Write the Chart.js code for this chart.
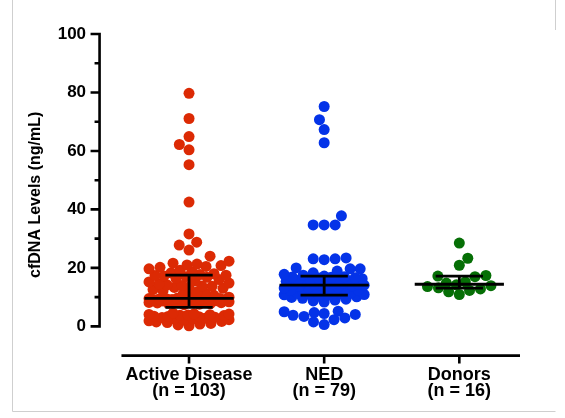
<!DOCTYPE html>
<html>
<head>
<meta charset="utf-8">
<script src="https://cdn.jsdelivr.net/npm/chart.js@4.4.1/dist/chart.umd.min.js"></script>
<style>
  html, body { margin: 0; padding: 0; background: #fff; }
  #chartContainer { position: relative; width: 565px; height: 418px; }
</style>
</head>
<body>
<div id="chartContainer"><canvas id="myChart"></canvas></div>
<script>
// groups and their sizes
const groups = ['Active Disease', 'NED', 'Donors'];
const groupCounts = ['(n = 103)', '(n = 79)', '(n = 16)'];

// cfDNA levels (ng/mL) per patient
const activeDisease = [
    0.2, 0.5, 0.8, 1.0, 1.3, 1.5, 1.7, 1.9, 2.1, 2.3, 2.5, 2.6, 2.8, 3.0, 3.1, 3.3, 3.4, 3.5, 3.7, 3.8, 3.9, 4.0, 4.1, 4.2, 4.3, 4.5,
    7.4, 7.6, 7.8, 7.9, 8.0, 8.1, 8.2, 8.3, 8.4, 8.5, 8.6, 8.7, 8.8, 8.9, 9.0, 9.0, 9.1, 9.2, 9.2, 9.3, 9.3, 9.4, 9.4, 9.5, 9.5, 9.6,
    10.0, 10.3, 10.6, 11.0, 11.4, 11.8, 12.2, 12.6, 13.0, 13.3, 13.5, 13.7, 13.8, 14.0, 14.2, 14.5, 14.8, 15.2, 15.6, 16.0, 16.4, 16.8, 17.0, 17.2, 17.4, 17.5,
    17.7, 18.0, 18.3, 18.7, 19.2, 19.7, 20.2, 20.5, 20.8, 21.0, 21.3, 21.6,
    22.3, 24.0, 26.1, 27.8, 28.8, 31.6, 42.5, 55.3, 60.4, 62.2, 64.9, 71.1, 79.7
];
const ned = [
    0.6, 1.5, 2.3, 2.9, 3.4, 3.8, 4.1, 4.4, 4.7, 5.0, 5.2,
    8.3, 8.7, 9.0, 9.3, 9.6, 9.9, 10.1, 10.3, 10.6,
    10.8, 10.9, 11.0, 11.1, 11.2, 11.3, 11.5, 11.7, 11.9, 12.1, 12.3, 12.5, 12.7, 12.9, 13.1, 13.3, 13.5, 13.7, 13.9, 14.1,
    14.2, 14.3, 14.4, 14.5, 14.6, 14.8, 15.0, 15.2, 15.4, 15.6, 15.8, 16.0, 16.1, 16.3, 16.5, 16.6, 16.8, 16.9, 17.0, 17.2,
    17.5, 17.8, 18.3, 18.9, 19.7, 19.7, 20.0, 22.8, 23.1, 23.1, 23.4, 34.7, 34.7, 34.7, 37.8, 62.8, 67.3, 70.7, 75.2
];
const donors = [10.9, 11.8, 12.3, 12.8, 13.2, 13.6, 13.9, 14.2, 14.8, 15.2, 17.0, 17.2, 17.4, 20.9, 23.3, 28.5];

// median with interquartile range
const medians = [9.6, 14.1, 14.4];
const lowerQuartiles = [6.5, 10.7, 13.1];
const upperQuartiles = [17.5, 17.2, 17.2];

const yTicks = [0, 20, 40, 60, 80, 100];
const yMinorTicks = [10, 30, 50, 70, 90];

const colors = ['#dc2a04', '#0433e8', '#066f06'];
const fontFamily = "'Liberation Sans', Arial, sans-serif";
const dotRadius = 5.5;
const swarmSpacing = 11;
const swarmHalfWidth = 40;

// beeswarm: lowest values first, each as close to the centre line as it can go;
// once a band is full the dot goes where it overlaps the least
function swarm(values, center, xs, ys, diam, cap) {
    const cx = xs.getPixelForValue(center);
    const order = values.map((v, i) => i).sort((a, b) => values[a] - values[b]);
    const placed = [];
    const out = [];
    let flip = 1;
    const minDist = (c, py) => placed.reduce((m, p) => Math.min(m, Math.hypot(p.x - c, p.y - py)), Infinity);
    order.forEach(i => {
        const py = ys.getPixelForValue(values[i]);
        const cands = [0];
        placed.forEach(p => {
            const dy = py - p.y;
            if (Math.abs(dy) < diam) {
                const dx = Math.sqrt(diam * diam - dy * dy);
                cands.push(p.x + dx, p.x - dx);
            }
        });
        cands.sort((a, b) => (Math.abs(a) - Math.abs(b)) || (flip * (b - a)));
        let best = cands.find(c => Math.abs(c) <= cap && minDist(c, py) >= diam - 0.01);
        if (best === undefined) {
            let bestD = -1;
            for (let k = 0; k <= 2 * cap; k++) {
                const c = flip * (k % 2 ? (k + 1) / 2 : -k / 2);
                const d = minDist(c, py);
                if (d > bestD + 0.01) { bestD = d; best = c; }
            }
        }
        flip = -flip;
        placed.push({ x: best, y: py });
        out[i] = { x: xs.getValueForPixel(cx + best), y: values[i] };
    });
    return out;
}

const axesAndBars = {
    id: 'axesAndBars',
    afterDatasetsDraw(chart) {
        const ctx = chart.ctx;
        const xs = chart.scales.x;
        const ys = chart.scales.y;
        const area = chart.chartArea;
        ctx.save();

        // light frame
        ctx.strokeStyle = '#cfcfcf';
        ctx.lineWidth = 1;
        ctx.beginPath();
        ctx.moveTo(12.5, 0);
        ctx.lineTo(12.5, 411.5);
        ctx.lineTo(555.5, 411.5);
        ctx.moveTo(555.5, 0);
        ctx.lineTo(555.5, 30);
        ctx.stroke();

        ctx.strokeStyle = '#000';
        ctx.lineWidth = 2.6;
        ctx.lineCap = 'butt';

        // y axis
        const yAxisX = area.left;
        ctx.beginPath();
        ctx.moveTo(yAxisX, ys.getPixelForValue(0) + 1.3);
        ctx.lineTo(yAxisX, ys.getPixelForValue(100) - 1.3);
        yTicks.forEach(t => {
            const py = ys.getPixelForValue(t);
            ctx.moveTo(yAxisX, py);
            ctx.lineTo(yAxisX - 9, py);
        });
        yMinorTicks.forEach(t => {
            const py = ys.getPixelForValue(t);
            ctx.moveTo(yAxisX, py);
            ctx.lineTo(yAxisX - 5, py);
        });
        ctx.stroke();

        // x axis
        const xAxisY = area.bottom;
        ctx.beginPath();
        ctx.moveTo(xs.getPixelForValue(0.5), xAxisY);
        ctx.lineTo(area.right, xAxisY);
        groups.forEach((g, i) => {
            const px = xs.getPixelForValue(i + 1);
            ctx.moveTo(px, xAxisY);
            ctx.lineTo(px, xAxisY + 8);
        });
        ctx.stroke();

        // median and interquartile range
        ctx.lineWidth = 2.8;
        groups.forEach((g, i) => {
            const c = i + 1;
            const yMed = ys.getPixelForValue(medians[i]);
            const yLo = ys.getPixelForValue(lowerQuartiles[i]);
            const yHi = ys.getPixelForValue(upperQuartiles[i]);
            ctx.beginPath();
            ctx.moveTo(xs.getPixelForValue(c - 0.33), yMed);
            ctx.lineTo(xs.getPixelForValue(c + 0.33), yMed);
            ctx.moveTo(xs.getPixelForValue(c - 0.175), yHi);
            ctx.lineTo(xs.getPixelForValue(c + 0.175), yHi);
            ctx.moveTo(xs.getPixelForValue(c - 0.175), yLo);
            ctx.lineTo(xs.getPixelForValue(c + 0.175), yLo);
            ctx.moveTo(xs.getPixelForValue(c), yHi);
            ctx.lineTo(xs.getPixelForValue(c), yLo);
            ctx.stroke();
        });
        ctx.restore();
    }
};

const seriesValues = [activeDisease, ned, donors];

const ctx = document.getElementById('myChart').getContext('2d');
const myChart = new Chart(ctx, {
    type: 'scatter',
    data: {
        datasets: seriesValues.map((vals, i) => ({
            label: groups[i],
            data: vals.map(v => ({ x: i + 1, y: v })),
            backgroundColor: colors[i],
            borderWidth: 0,
            pointRadius: dotRadius,
            pointHoverRadius: dotRadius
        }))
    },
    options: {
        responsive: true,
        maintainAspectRatio: false,
        animation: false,
        devicePixelRatio: 1,
        layout: { padding: { top: 34, right: 45, bottom: 16, left: 20 } },
        plugins: { legend: { display: false }, tooltip: { enabled: false } },
        scales: {
            x: {
                type: 'linear',
                min: 0.338,
                max: 3.449,
                grid: { display: false },
                border: { display: false },
                afterBuildTicks: scale => { scale.ticks = [{ value: 1 }, { value: 2 }, { value: 3 }]; },
                ticks: {
                    autoSkip: false,
                    maxRotation: 0,
                    padding: 3,
                    color: '#000',
                    font: { family: fontFamily, size: 18, weight: 'bold', lineHeight: 0.9 },
                    callback: v => [groups[v - 1], groupCounts[v - 1]]
                }
            },
            y: {
                min: -10,
                max: 100,
                grid: { display: false },
                border: { display: false },
                afterBuildTicks: scale => { scale.ticks = yTicks.map(v => ({ value: v })); },
                ticks: {
                    padding: 5.5,
                    color: '#000',
                    font: { family: fontFamily, size: 17, weight: 'bold' }
                },
                title: {
                    display: true,
                    text: 'cfDNA Levels (ng/mL)',
                    color: '#000',
                    padding: { top: 6, bottom: 7 },
                    font: { family: fontFamily, size: 16, weight: 'bold' }
                }
            }
        }
    },
    plugins: [axesAndBars]
});

// spread the dots sideways now that the scales have pixel sizes
seriesValues.forEach((vals, i) => {
    myChart.data.datasets[i].data = swarm(vals, i + 1, myChart.scales.x, myChart.scales.y, swarmSpacing, swarmHalfWidth);
});
myChart.update('none');
</script>
</body>
</html>
